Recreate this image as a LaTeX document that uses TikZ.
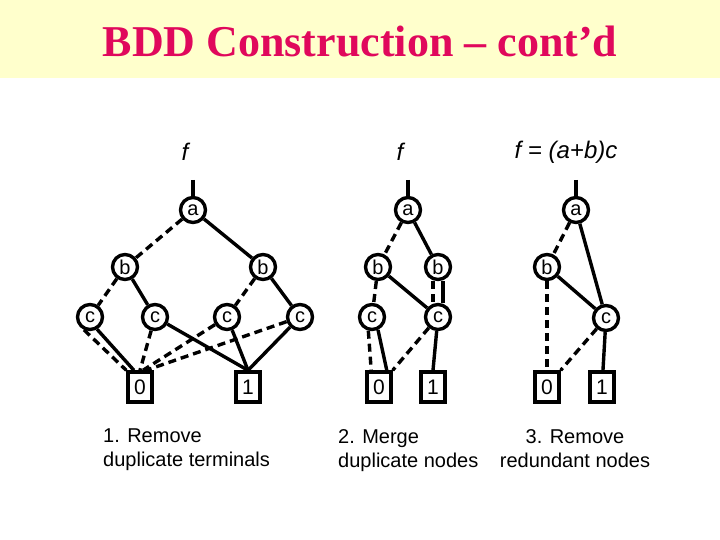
\documentclass[tikz,border=0pt]{standalone}
\usepackage{fontspec}
\setmainfont{Liberation Serif}
\setsansfont{Liberation Sans}
\usepackage{xcolor}
\usepackage{tikz}
\usetikzlibrary{positioning}

\definecolor{band}{HTML}{FFFFCC}
\definecolor{titlered}{HTML}{E0085C}

\begin{document}
\begin{tikzpicture}[x=1pt, y=-1pt,
  vnode/.style={draw, circle, line width=3.4pt, minimum size=25pt, inner sep=0pt,
    font=\sffamily\fontsize{20}{20}\selectfont},
  tnode/.style={draw, rectangle, line width=3.4pt, minimum width=24pt, minimum height=30pt,
    inner sep=0pt, font=\sffamily\fontsize{21}{21}\selectfont},
  hi/.style={line width=3.4pt},
  lo/.style={line width=3.4pt, dash pattern=on 8pt off 5pt},
  flabel/.style={font=\sffamily\itshape\fontsize{24}{24}\selectfont},
  caption/.style={font=\sffamily\fontsize{20}{24}\selectfont, inner sep=0pt}
]
  \useasboundingbox (0,0) rectangle (720,540);
  \fill[white] (0,0) rectangle (720,540);
  \fill[band] (0,0) rectangle (720,78);

  % title
  \node[text=titlered, font=\bfseries\fontsize{44}{44}\selectfont] (title) at (360,42) {BDD Construction – cont’d};

  % 1. remove duplicate terminals
  \node[flabel] (f1) at (185,152) {f};
  \coordinate (t1) at (193,180);
  \node[vnode] (a1) at (193,210) {a};
  \node[vnode] (b11) at (125,267) {b};
  \node[vnode] (b12) at (263,267) {b};
  \node[vnode] (c11) at (90,317) {c};
  \node[vnode] (c12) at (155,317) {c};
  \node[vnode] (c13) at (227,317) {c};
  \node[vnode] (c14) at (300,317) {c};
  \node[tnode] (z1) at (140,387) {0};
  \node[tnode] (o1) at (248,387) {1};

  \draw[hi] (t1) -- (a1);
  \draw[lo] (a1) -- (b11);
  \draw[hi] (a1) -- (b12);
  \draw[lo] (b11) -- (c11);
  \draw[hi] (b11) -- (c12);
  \draw[lo] (b12) -- (c13);
  \draw[hi] (b12) -- (c14);
  \draw[lo] (c11.-115) -- (z1.north west);
  \draw[hi] (c11.-60) -- (z1.110);
  \draw[lo] (c12) -- (z1.north);
  \draw[hi] (c12) -- (o1.north);
  \draw[lo] (c13) -- (z1.80);
  \draw[hi] (c13) -- (o1.north);
  \draw[lo] (c14) -- (z1.70);
  \draw[hi] (c14) -- (o1.north);

  % 2. merge duplicate nodes
  \node[flabel] (f2) at (400,152) {f};
  \coordinate (t2) at (408,180);
  \node[vnode] (a2) at (408,210) {a};
  \node[vnode] (b21) at (378,267) {b};
  \node[vnode] (b22) at (438,267) {b};
  \node[vnode] (c21) at (372,317) {c};
  \node[vnode] (c22) at (438,317) {c};
  \node[tnode] (z2) at (379,387) {0};
  \node[tnode] (o2) at (433,387) {1};

  \draw[hi] (t2) -- (a2);
  \draw[lo] (a2) -- (b21);
  \draw[hi] (a2) -- (b22);
  \draw[lo] (b21) -- (c21);
  \draw[hi] (b21) -- (c22);
  \draw[lo] ([xshift=-5pt]b22.south) -- ([xshift=-5pt]c22.north);
  \draw[hi] ([xshift=5pt]b22.south) -- ([xshift=5pt]c22.north);
  \draw[lo] (c21.-105) -- (z2.115);
  \draw[hi] (c21.-65) -- (z2.65);
  \draw[lo] (c22) -- (z2.north east);
  \draw[hi] (c22) -- (o2.north);

  % 3. remove redundant nodes
  \node[flabel] (f3) at (566,152) {f = (a+b)c};
  \coordinate (t3) at (576,180);
  \node[vnode] (a3) at (576,210) {a};
  \node[vnode] (b3) at (547,267) {b};
  \node[vnode] (c3) at (606,318) {c};
  \node[tnode] (z3) at (547,387) {0};
  \node[tnode] (o3) at (602,387) {1};

  \draw[hi] (t3) -- (a3);
  \draw[lo] (a3) -- (b3);
  \draw[hi] (a3) -- (c3);
  \draw[lo] (b3) -- (z3);
  \draw[hi] (b3) -- (c3);
  \draw[lo] (c3) -- (z3.north east);
  \draw[hi] (c3) -- (o3);

  % captions
  \node[caption, anchor=north west, align=left] (cap1) at (103,429) {1. Remove\\duplicate terminals};
  \node[caption, anchor=north west, align=left] (cap2) at (338,429) {2. Merge\\duplicate nodes};
  \node[caption, anchor=north, align=center] (cap3) at (575,429) {3. Remove\\redundant nodes};
\end{tikzpicture}
\end{document}
